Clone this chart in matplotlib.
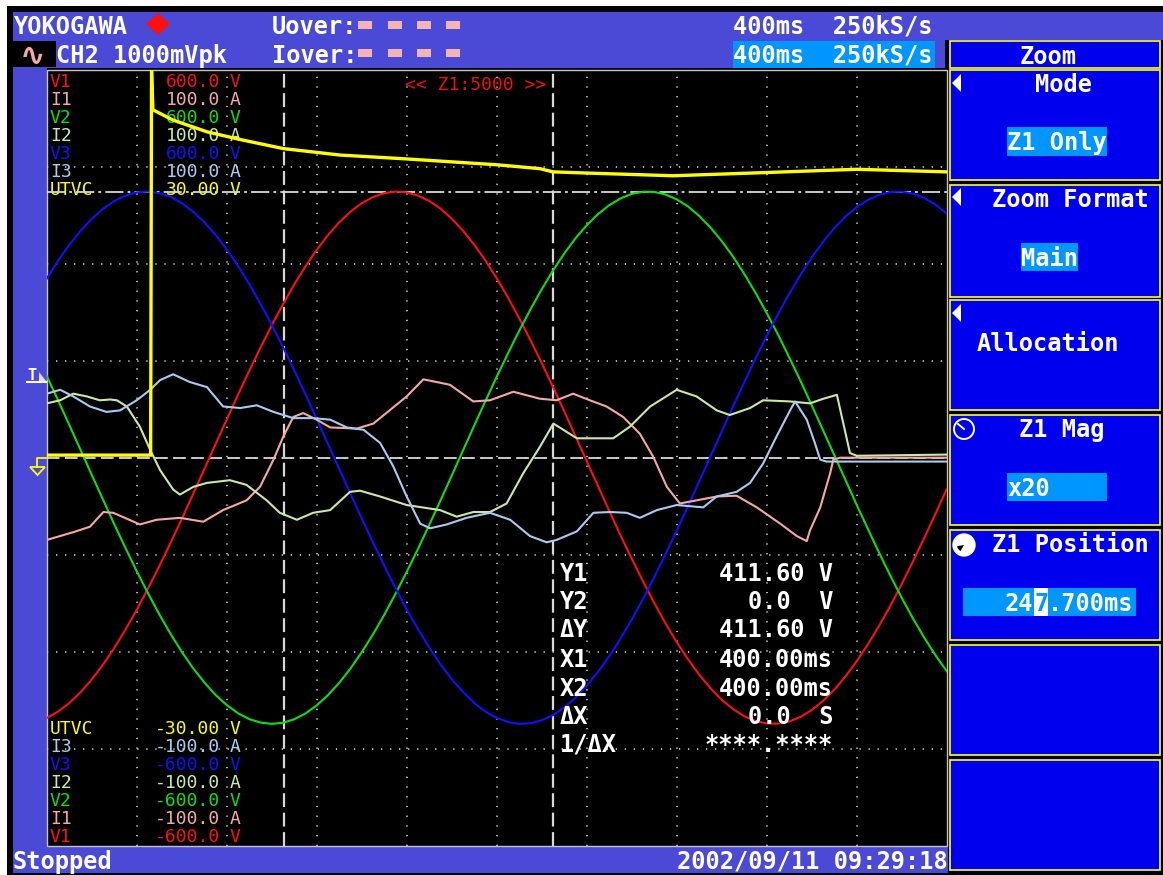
import matplotlib
matplotlib.use("Agg")
import matplotlib.pyplot as plt
from matplotlib.patches import Rectangle, Polygon, Circle, Wedge

plt.rcParams['lines.scale_dashes'] = False

# ---------------- data read from the screen ----------------
# zoom window time axis (ms), 10 divisions
t_volt = [0.0, 0.25, 0.5, 0.75, 1.0, 1.25, 1.5, 1.75, 2.0, 2.25, 2.5, 2.75, 3.0, 3.25,
          3.5, 3.75, 4.0, 4.25, 4.5, 4.75, 5.0, 5.25, 5.5, 5.75, 6.0, 6.25, 6.5, 6.75,
          7.0, 7.25, 7.5, 7.75, 8.0, 8.25, 8.5, 8.75, 9.0, 9.25, 9.5, 9.75, 10.0,
          10.25, 10.5, 10.75, 11.0, 11.25, 11.5, 11.75, 12.0, 12.25, 12.5, 12.75,
          13.0, 13.25, 13.5, 13.75, 14.0, 14.25, 14.5, 14.75, 15.0, 15.25, 15.5,
          15.75, 16.0, 16.25, 16.5, 16.75, 17.0, 17.25, 17.5, 17.75, 18.0, 18.25,
          18.5, 18.75, 19.0, 19.25, 19.5, 19.75, 20.0]
v1 = [-402.6, -392.7, -379.5, -363.0, -343.0, -320.2, -294.4, -265.9, -235.4, -202.5,
      -168.1, -132.1, -94.8, -56.8, -18.2, 20.5, 59.0, 97.1, 134.1, 170.0, 204.6,
      237.1, 267.8, 295.9, 321.4, 344.1, 364.0, 380.3, 393.5, 403.0, 409.1, 411.6,
      410.3, 405.4, 397.1, 385.3, 369.8, 351.1, 329.4, 305.0, 277.5, 247.8, 215.7,
      181.9, 146.4, 109.5, 71.9, 33.5, -5.2, -43.6, -82.1, -119.8, -156.1, -191.0,
      -224.5, -256.0, -285.1, -311.6, -335.5, -356.5, -374.3, -388.6, -399.7, -407.1,
      -411.0, -411.3, -407.9, -400.9, -390.3, -376.2, -359.0, -338.3, -314.8, -288.5,
      -259.7, -228.8, -195.6, -160.5, -124.3, -86.8, -48.7]
v2 = [126.5, 89.3, 51.0, 12.4, -26.3, -64.6, -102.6, -139.5, -175.4, -209.5, -241.9,
      -272.1, -300.0, -325.2, -347.4, -366.7, -382.5, -395.1, -404.2, -409.6, -411.6,
      -409.9, -404.5, -395.5, -383.1, -367.2, -348.2, -326.0, -300.9, -273.3, -243.1,
      -210.7, -176.7, -141.2, -104.0, -66.3, -27.7, 11.0, 49.6, 87.7, 125.1, 161.3,
      196.3, 229.3, 260.4, 289.4, 315.6, 339.2, 359.4, 376.6, 390.5, 400.9, 408.0,
      411.3, 411.0, 407.1, 399.5, 388.6, 373.9, 356.0, 335.1, 311.2, 284.5, 255.2,
      223.8, 190.6, 155.3, 119.0, 81.2, 42.8, 4.3, -34.4, -72.8, -110.3, -147.2,
      -182.8, -216.5, -248.6, -278.1, -305.4, -330.0]
v3 = [276.7, 304.2, 328.9, 350.7, 369.4, 384.8, 396.8, 405.4, 410.3, 411.6, 409.2,
      403.4, 393.8, 380.7, 364.4, 344.9, 322.2, 296.8, 268.6, 237.9, 205.5, 171.2,
      135.2, 98.0, 60.1, 21.5, -17.2, -55.6, -93.8, -130.9, -167.1, -201.7, -234.5,
      -265.1, -293.5, -319.4, -342.4, -362.2, -379.2, -392.7, -402.4, -408.7, -411.5,
      -410.6, -406.1, -398.0, -386.3, -371.3, -352.8, -331.3, -307.2, -279.9, -250.4,
      -218.6, -184.9, -149.4, -112.8, -75.3, -36.8, 1.9, 40.5, 79.0, 116.4, 153.1,
      188.2, 221.9, 253.4, 282.8, 309.6, 333.8, 354.8, 372.9, 387.4, 398.8, 406.7,
      410.8, 411.4, 408.3, 401.6, 391.4, 377.6]

t_i1 = [0.0, 0.59, 0.96, 1.26, 1.48, 2.07, 2.44, 2.96, 3.48, 3.92, 4.44, 4.74, 5.04,
        5.26, 5.48, 5.70, 6.00, 6.30, 6.89, 7.26, 8.00, 8.37, 8.96, 9.48, 9.85,
        10.37, 10.96, 11.33, 11.70, 12.07, 12.44, 12.81, 13.18, 13.48, 13.78, 14.07,
        14.44, 14.89, 15.33, 15.78, 16.30, 16.67, 16.89, 16.96, 17.19, 17.41, 17.48,
        17.63, 20.0]
i1 = [-21.2, -19.2, -17.8, -14.0, -14.2, -17.2, -16.0, -15.5, -16.5, -13.5, -11.0,
      -7.5, -0.5, 5.5, 10.5, 11.5, 9.8, 7.8, 7.5, 8.8, 15.8, 20.2, 18.8, 14.5, 14.8,
      17.0, 15.2, 14.8, 16.5, 14.8, 13.2, 10.5, 6.2, 0.2, -7.5, -11.8, -11.0, -10.0,
      -9.8, -12.8, -17.0, -20.2, -21.5, -18.8, -12.8, -4.0, -0.5, 0.0, 0.0]

t_i2 = [0.0, 0.30, 0.59, 0.89, 1.18, 1.41, 1.56, 1.78, 2.07, 2.30, 2.52, 2.81, 2.96,
        3.26, 3.56, 4.07, 4.44, 4.89, 5.18, 5.56, 5.92, 6.30, 6.74, 6.96, 7.41, 8.00,
        8.74, 9.11, 9.48, 9.85, 10.22, 10.59, 10.96, 11.26, 11.48, 11.78, 12.59, 12.96,
        13.41, 14.00, 14.44, 14.89, 15.18, 15.63, 15.92, 16.52, 16.96, 17.26, 17.56,
        17.85, 18.00, 20.0]
i2 = [14.0, 14.8, 16.5, 15.8, 14.8, 15.0, 14.8, 13.2, 8.0, 2.0, -3.2, -8.2, -9.5,
      -7.5, -6.5, -5.8, -7.0, -11.0, -14.2, -16.0, -14.2, -13.5, -8.8, -8.5, -10.0,
      -12.2, -13.5, -15.2, -14.0, -14.0, -11.8, -4.0, 2.8, 8.8, 7.2, 5.0, 5.0, 8.0,
      13.2, 17.5, 15.8, 12.2, 11.0, 12.8, 14.8, 14.5, 14.0, 15.2, 16.2, 1.2, 0.5, 0.8]

t_i3 = [0.0, 0.30, 0.59, 0.96, 1.33, 1.63, 2.00, 2.30, 2.52, 2.81, 3.18, 3.56, 3.92,
        4.30, 4.67, 5.04, 5.48, 5.92, 6.30, 6.67, 7.04, 7.41, 7.70, 8.00, 8.30, 8.52,
        8.89, 9.33, 9.85, 10.30, 10.74, 11.11, 11.33, 11.78, 12.15, 12.52, 12.89,
        13.18, 13.56, 14.00, 14.59, 14.89, 15.33, 15.63, 15.92, 16.22, 16.52, 16.63,
        16.89, 17.07, 17.19, 17.33, 20.0]
i3 = [16.5, 17.5, 15.8, 13.2, 11.8, 12.2, 14.8, 17.5, 20.0, 21.5, 19.5, 18.2, 13.2,
      12.8, 13.5, 11.8, 10.2, 10.2, 9.8, 7.8, 7.2, 3.8, -2.2, -10.0, -17.0, -18.2,
      -17.2, -15.5, -14.2, -16.0, -20.2, -21.8, -21.2, -19.0, -14.2, -14.0, -14.2,
      -15.5, -13.5, -12.2, -12.8, -10.0, -8.8, -6.5, -1.5, 5.5, 12.2, 14.5, 9.8,
      3.8, -0.5, -1.0, -1.0]

t_utvc = [0.0, 2.31, 2.33, 2.36, 2.81, 3.56, 4.30, 5.26, 6.52, 8.00, 10.00, 10.96,
          11.25, 12.08, 13.92, 16.00, 18.00, 20.00]
utvc = [0.2, 0.2, 30.0, 26.9, 26.1, 25.2, 24.6, 23.9, 23.4, 23.1, 22.65, 22.35,
        22.1, 22.0, 21.8, 22.05, 22.3, 22.1]

# channel table
ch_names = ['V1', 'I1', 'V2', 'I2', 'V3', 'I3', 'UTVC']
ch_hi = ['600.0', '100.0', '600.0', '100.0', '600.0', '100.0', '30.00']
ch_lo = ['-600.0', '-100.0', '-600.0', '-100.0', '-600.0', '-100.0', '-30.00']
ch_unit = ['V', 'A', 'V', 'A', 'V', 'A', 'V']
ch_range = [600.0, 100.0, 600.0, 100.0, 600.0, 100.0, 30.0]
ch_color = ['#ff1010', '#f4a8a8', '#10dd10', '#cce8a4', '#1010ff', '#a8ccf0', '#ffff00']

# cursors
y1_cursor = 411.6     # V (on V range)
y2_cursor = 0.0
x_cursors = [5.27, 11.26]  # ms on screen
cur_names = ['Y1', 'Y2', '\u0394Y', 'X1', 'X2', '\u0394X', '1/\u0394X']
cur_vals = ['411.60 V', '0.0  V', '411.60 V', '400.00ms', '400.00ms', '0.0  S', '****.****']

menu_title = 'Zoom'
menu_items = ['Mode', 'Zoom Format', 'Allocation', 'Z1 Mag', 'Z1 Position']
menu_values = ['Z1 Only', 'Main', '', 'x20', '247.700ms']

# ---------------- figure ----------------
W, H = 1163, 875
MONO = ['DejaVu Sans Mono', 'DejaVu Sans']
HDR = '#4a4ad6'
PANEL = '#0000ee'
HIL = '#0096ff'
GRID = '#cfcfcf'
CUR = '#d8d8d8'

fig = plt.figure(figsize=(W / 100, H / 100), dpi=100, facecolor='white')

def px_axes(z):
    a = fig.add_axes([0, 0, 1, 1], zorder=z)
    a.set_xlim(0, W)
    a.set_ylim(H, 0)
    a.axis('off')
    a.set_facecolor('none')
    return a

bg = px_axes(0)

def txt(a, x, cy, s, size, color='white', ha='left', weight='bold', z=6):
    em = size * 100 / 72
    a.text(x, cy + 0.3645 * em, s, fontsize=size, color=color, ha=ha,
           va='baseline', family=MONO, fontweight=weight, zorder=z)

def rect(a, x0, y0, x1, y1, fc, ec='none', lw=0, z=1):
    a.add_patch(Rectangle((x0, y0), x1 - x0, y1 - y0, facecolor=fc,
                          edgecolor=ec, linewidth=lw, zorder=z))

# frame and bars
rect(bg, 7, 6, W, H, 'black')
rect(bg, 13, 12, W, 40, HDR)
rect(bg, 13, 40, 945, 68, HDR)
rect(bg, 13, 41, 56, 67, 'black', z=2)
rect(bg, 13, 68, 46.7, 847, HDR)
rect(bg, 13, 847, 948, 873, HDR)

PL, PR, PT, PB = 46.7, 946.7, 69.7, 845.7
rect(bg, PL, PT, PR, PB, 'black', ec='#c4c4c4', lw=1.0, z=2)

# right-hand menu
rect(bg, 950, 41, 1160, 68, PANEL, ec='#ffff30', lw=1.2, z=2)
box_y = [(70, 180), (185, 297), (300, 410), (415, 525), (530, 640), (645, 755), (760, 870)]
for (y0, y1) in box_y:
    rect(bg, 950, y0, 1160, y1, PANEL, ec='#ffff30', lw=1.2, z=2)

# header
txt(bg, 14, 25, 'YOKOGAWA', 17)
bg.add_patch(Polygon([(158, 13), (170, 24), (158, 35), (146, 24)], closed=True,
                     facecolor='#ff1010', edgecolor='none', zorder=3))
txt(bg, 272, 25, 'Uover:', 17)
txt(bg, 272, 54, 'Iover:', 17)
for xr in [358, 388, 417, 446]:
    rect(bg, xr, 21, xr + 14, 29, '#f4b4b4', z=3)
    rect(bg, xr, 49, xr + 14, 57, '#f4b4b4', z=3)
bg.text(33, 56, '\u223f', fontsize=22, color='#f4a8a8', ha='center', va='center',
        family=['DejaVu Sans'], fontweight='bold', zorder=4)
txt(bg, 56, 54, 'CH2 1000mVpk', 17)
txt(bg, 733, 25, '400ms  250kS/s', 17)
rect(bg, 733, 41, 935, 68, HIL, z=3)
txt(bg, 733, 54, '400ms  250kS/s', 17)

# bottom bar
txt(bg, 13, 860, 'Stopped', 17)
txt(bg, 948, 860, '2002/09/11 09:29:18', 17, ha='right')

# menu texts
txt(bg, 1048, 55, menu_title, 17, ha='center')
item_cy = [83, 198, 342, 428, 543]
item_cx = [1063, 1070, 1048, 1062, 1070]
for s, cx, cy in zip(menu_items, item_cx, item_cy):
    txt(bg, cx, cy, s, 17, ha='center')
for cy in [83, 197, 313]:
    bg.add_patch(Polygon([(952, cy), (961, cy - 9), (961, cy + 9)], closed=True,
                         facecolor='white', edgecolor='none', zorder=4))
# value highlights
rect(bg, 1007, 127, 1107, 156, HIL, z=3)
txt(bg, 1007, 141, menu_values[0], 17)
rect(bg, 1021, 243, 1078, 271, HIL, z=3)
txt(bg, 1021, 257, menu_values[1], 17)
rect(bg, 1007, 473, 1107, 501, HIL, z=3)
txt(bg, 1007, 487, menu_values[3], 17)
rect(bg, 963, 588, 1136, 616, HIL, z=3)
rect(bg, 1034, 588, 1048, 616, 'white', z=4)
txt(bg, 1005, 602, menu_values[4][:2], 17)
txt(bg, 1034, 602, menu_values[4][2], 17, color=HIL)
txt(bg, 1048, 602, menu_values[4][3:], 17)
# knob icons
bg.add_patch(Circle((964, 429), 10, facecolor='none', edgecolor='white', lw=1.4, zorder=4))
bg.plot([964, 958], [429, 424], color='white', lw=1.4, zorder=4)
bg.add_patch(Circle((964, 545), 11, facecolor='white', edgecolor='white', lw=1, zorder=4))
bg.add_patch(Wedge((964, 545), 7, 120, 170, facecolor='black', zorder=5))

# left column markers
txt(bg, 27, 374, 'T', 11)
bg.plot([27, 46], [382, 382], color='white', lw=1.5, zorder=4)
bg.add_patch(Polygon([(39, 372), (46, 381), (39, 381)], closed=True,
                     facecolor='#dddddd', edgecolor='none', zorder=4))
bg.plot([46, 37, 37], [458, 458, 467], color='#ffff00', lw=1.3, zorder=4)
bg.add_patch(Polygon([(30, 467), (45, 467), (37.5, 475)], closed=True,
                     facecolor='none', edgecolor='#ffff00', lw=1.3, zorder=4))

# channel labels (beneath the traces)
top_cy = [80, 98, 116, 134, 152, 170, 188]
for n, hi, u, c, cy in zip(ch_names, ch_hi, ch_unit, ch_color, top_cy):
    txt(bg, 50, cy, n, 13, color=c, weight='normal')
    txt(bg, 220, cy, hi, 13, color=c, ha='right', weight='normal')
    txt(bg, 230, cy, u, 13, color=c, weight='normal')
bot_cy = [835, 817, 799, 781, 763, 745, 727]
for n, lo, u, c, cy in zip(ch_names, ch_lo, ch_unit, ch_color, bot_cy):
    txt(bg, 50, cy, n, 13, color=c, weight='normal')
    txt(bg, 220, cy, lo, 13, color=c, ha='right', weight='normal')
    txt(bg, 230, cy, u, 13, color=c, weight='normal')
txt(bg, 405, 83, '<< Z1:5000 >>', 13, color='#ee1010', weight='normal')

# ---------------- waveform axes ----------------
ax = fig.add_axes([PL / W, 1 - PB / H, (PR - PL) / W, (PB - PT) / H], zorder=1)
ax.set_xlim(0, 20)
ax.set_ylim(-4, 4)
ax.axis('off')
ax.set_facecolor('none')

for k in range(1, 10):
    ax.axvline(2 * k, color=GRID, lw=1.2, linestyle=(0, (0.9, 6.1)), zorder=1)
for k in range(-3, 4):
    ax.axhline(k, color=GRID, lw=1.2, linestyle=(0, (0.9, 5.6)), zorder=1)

ax.axhline(y1_cursor / 600.0 * 4, color=CUR, lw=1.3, linestyle=(0, (13, 3, 2, 3)), zorder=2)
ax.axhline(y2_cursor / 600.0 * 4, color=CUR, lw=1.3, linestyle=(0, (9, 4)), zorder=2)
for xc in x_cursors:
    ax.axvline(xc, color=CUR, lw=1.6, linestyle=(0, (10, 4)), zorder=2)

def div(vals, rng):
    return [v / rng * 4.0 for v in vals]

series = [(t_volt, v1, 0), (t_volt, v2, 2), (t_volt, v3, 4),
          (t_i1, i1, 1), (t_i2, i2, 3), (t_i3, i3, 5)]
for tt, vv, ci in series:
    ax.plot(tt, div(vv, ch_range[ci]), color=ch_color[ci], lw=1.5, zorder=3,
            solid_joinstyle='round')
ax.plot(t_utvc, div(utvc, ch_range[6]), color=ch_color[6], lw=2.4, zorder=4,
        solid_joinstyle='miter', clip_on=True)

# ---------------- cursor readout (on top) ----------------
ov = px_axes(3)
read_cy = [572, 600, 628, 658, 687, 715, 743]
for n, v, cy in zip(cur_names, cur_vals, read_cy):
    txt(ov, 560, cy, n, 17)
    txt(ov, 833, cy, v, 17, ha='right')

fig.savefig('out.png', dpi=100, facecolor='white')
